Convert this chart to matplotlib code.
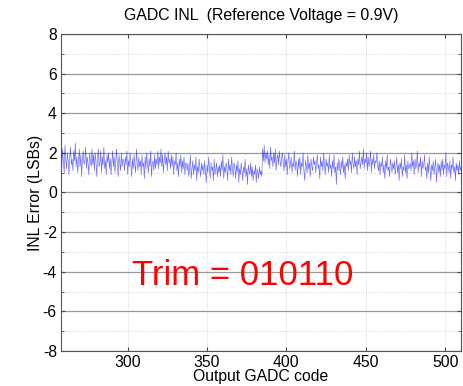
import numpy as np
import matplotlib
matplotlib.use('Agg')
import matplotlib.pyplot as plt
from matplotlib.ticker import MultipleLocator

plt.rcParams['font.family'] = ['Liberation Sans', 'DejaVu Sans']
plt.rcParams['axes.unicode_minus'] = False

# output code axis: half-code steps starting at 258
code_start = 258
code_step = 0.5

# INL error in LSBs (one row = 10 codes)
inl_lsb = [
    1.9, 1.3, 2.2, 1.5, 1.0, 2.4, 1.7, 1.2, 2.0, 1.6, 0.9, 1.8, 2.3, 1.4, 1.7, 1.1, 2.1, 1.6, 2.5, 1.3,
    1.8, 1.0, 1.5, 2.2, 1.3, 1.9, 0.8, 1.7, 2.1, 1.4, 1.6, 2.3, 1.2, 1.8, 1.5, 0.9, 2.0, 1.6, 1.3, 2.2,
    1.4, 1.9, 1.1, 2.0, 1.6, 0.8, 1.7, 2.2, 1.3, 1.5, 2.1, 1.0, 1.8, 1.4, 2.3, 1.2, 1.6, 0.9, 1.9, 1.5,
    2.0, 1.2, 1.7, 0.9, 1.5, 2.1, 1.3, 1.8, 1.0, 1.6, 2.2, 1.4, 0.8, 1.9, 1.5, 1.1, 2.0, 1.3, 1.7, 1.6,
    1.1, 1.8, 1.4, 2.1, 0.9, 1.6, 1.3, 2.0, 1.5, 0.8, 1.7, 1.2, 1.9, 1.4, 1.0, 2.2, 1.5, 1.1, 1.8, 1.3,
    1.6, 0.9, 1.9, 1.3, 1.5, 0.7, 1.8, 1.2, 2.0, 1.4, 1.0, 1.7, 1.3, 2.1, 0.8, 1.5, 1.6, 1.1, 1.9, 1.2,
    1.7, 1.4, 2.1, 1.2, 1.8, 1.5, 2.2, 1.3, 1.9, 1.0, 1.6, 2.0, 1.4, 1.8, 1.1, 2.1, 1.5, 1.7, 1.2, 1.9,
    1.3, 1.8, 0.9, 1.6, 1.4, 2.0, 1.1, 1.5, 0.8, 1.7, 1.3, 1.9, 1.0, 1.6, 1.2, 1.8, 0.9, 1.5, 1.4, 1.1,
    1.5, 0.8, 1.3, 1.9, 0.7, 1.2, 1.6, 0.9, 1.4, 1.1, 1.8, 0.6, 1.3, 1.0, 1.7, 1.2, 0.8, 1.5, 1.1, 1.4,
    0.9, 1.6, 1.1, 0.5, 1.4, 1.0, 1.8, 1.2, 0.7, 1.5, 1.1, 1.3, 0.6, 1.7, 0.9, 1.2, 1.5, 0.8, 1.3, 1.0,
    1.4, 0.8, 1.6, 1.1, 1.9, 0.7, 1.3, 1.0, 1.5, 1.2, 0.6, 1.7, 1.1, 1.4, 0.9, 1.8, 1.2, 0.8, 1.5, 1.3,
    0.7, 1.4, 1.0, 1.6, 0.5, 1.2, 0.9, 1.5, 1.1, 0.6, 1.3, 1.0, 1.7, 0.8, 1.2, 0.4, 1.4, 1.1, 0.9, 1.5,
    0.8, 1.3, 0.6, 1.1, 0.9, 1.4, 0.5, 1.2, 1.0, 0.7, 1.3, 0.9, 1.1, 0.8, 2.2, 1.6, 2.4, 1.5, 2.0, 1.7,
    2.1, 1.4, 1.9, 1.2, 2.3, 1.6, 1.8, 1.3, 2.0, 1.5, 2.2, 1.1, 1.7, 1.9, 1.4, 2.1, 1.6, 1.3, 1.8, 2.0,
    1.5, 1.1, 1.9, 1.3, 1.7, 0.9, 1.6, 2.0, 1.2, 1.4, 1.8, 1.0, 1.5, 1.3, 2.1, 1.1, 1.6, 1.4, 0.8, 1.7,
    1.2, 1.8, 0.9, 1.5, 1.3, 2.0, 1.1, 0.6, 1.6, 1.4, 1.0, 1.9, 1.2, 1.5, 0.8, 1.7, 1.3, 1.1, 1.8, 1.4,
    1.6, 1.0, 1.5, 1.9, 1.2, 1.4, 0.7, 1.8, 1.3, 1.6, 1.1, 2.0, 1.4, 0.9, 1.7, 1.3, 1.5, 1.0, 1.9, 1.2,
    1.4, 0.8, 1.6, 1.2, 1.9, 1.0, 1.3, 0.4, 1.5, 1.1, 1.7, 1.3, 0.9, 1.6, 1.2, 1.8, 1.0, 1.4, 0.7, 1.5,
    1.3, 1.7, 1.1, 1.9, 1.4, 1.6, 1.0, 2.0, 1.5, 1.2, 1.8, 1.3, 1.6, 0.9, 1.7, 1.4, 2.1, 1.2, 1.5, 1.8,
    1.4, 2.2, 1.2, 1.7, 1.5, 2.0, 1.1, 1.8, 1.3, 1.6, 2.1, 1.0, 1.7, 1.4, 1.9, 1.2, 1.6, 1.5, 2.0, 1.3,
    1.1, 1.6, 0.9, 1.5, 1.3, 1.8, 1.0, 1.4, 0.7, 1.6, 1.2, 1.9, 1.1, 1.3, 0.8, 1.7, 1.4, 1.0, 1.5, 1.2,
    1.6, 0.9, 1.3, 1.8, 1.0, 1.4, 0.6, 1.5, 1.2, 1.7, 0.8, 1.3, 1.1, 1.9, 1.0, 1.4, 0.7, 1.6, 1.2, 1.3,
    1.5, 1.1, 2.0, 1.3, 1.6, 0.9, 1.7, 1.2, 1.4, 2.1, 1.0, 1.5, 1.3, 1.8, 0.8, 1.6, 1.2, 1.4, 1.9, 1.1,
    1.3, 0.7, 1.5, 1.0, 1.8, 1.2, 0.6, 1.4, 1.1, 1.6, 0.9, 1.3, 1.7, 0.5, 1.2, 1.5, 1.0, 1.4, 0.8, 1.6,
    1.1, 1.7, 0.9, 1.4, 1.2, 2.0, 0.8, 1.5, 1.3, 1.0, 1.6, 0.7, 1.4, 1.2, 1.8, 1.0, 1.3, 0.6, 1.5, 1.1,
    1.4, 0.9, 1.6, 1.1, 1.3, 1.0,
]
codes = code_start + code_step * np.arange(len(inl_lsb))

fig = plt.figure(figsize=(4.63, 3.86), dpi=100)
ax = fig.add_axes([0.1318, 0.0907, 0.8639, 0.8212])

ax.plot(codes, inl_lsb, color='#0000ff', lw=0.45, alpha=0.6)

ax.set_xlim(258, 510)
ax.set_ylim(-8, 8)
ax.set_xticks([300, 350, 400, 450, 500])
ax.yaxis.set_major_locator(MultipleLocator(2))
ax.yaxis.set_minor_locator(MultipleLocator(1))
ax.tick_params(which='both', direction='in', top=True, right=True, labelsize=11.3,
               color='#444444', length=3, pad=3)
ax.tick_params(which='minor', length=2)

ax.grid(axis='y', which='major', color='#999999', lw=0.9, ls='-')
ax.grid(axis='y', which='minor', color='#cccccc', lw=0.6, ls=':')
ax.grid(axis='x', which='major', color='#cccccc', lw=0.6, ls=':')
for s in ax.spines.values():
    s.set_color('#555555')

ax.set_title('GADC INL  (Reference Voltage = 0.9V)', fontsize=11.4, pad=10)
ax.set_xlabel('Output GADC code', fontsize=11.3, labelpad=-1)
ax.set_ylabel('INL Error (LSBs)', fontsize=11.3, labelpad=0)

ax.text(303, -4.2, 'Trim = 010110', color='red', fontsize=25, va='center', ha='left')

fig.savefig('out.png', dpi=100)
